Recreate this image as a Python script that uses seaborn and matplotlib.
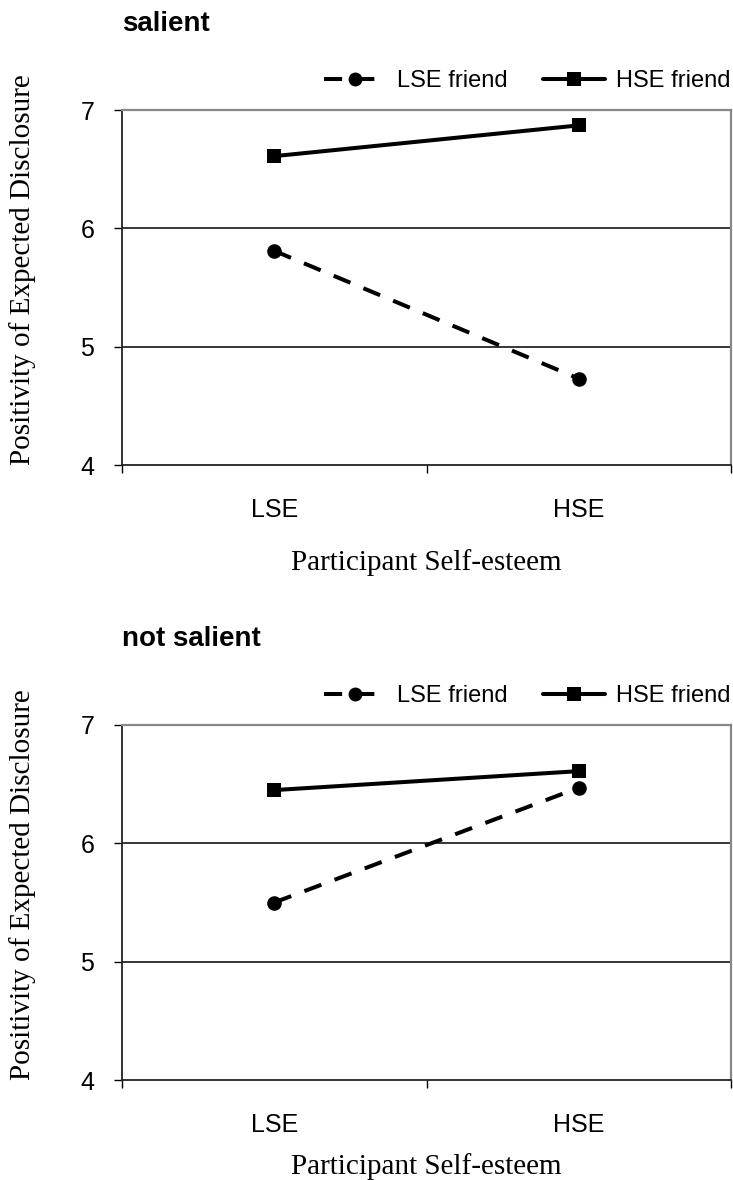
import numpy as np
import pandas as pd
import seaborn as sns
import matplotlib.pyplot as plt
from matplotlib.ticker import FixedLocator

# values
participant = ['LSE', 'HSE']
friend_groups = ['LSE friend', 'HSE friend']

salient_lse_friend = [5.81, 4.73]
salient_hse_friend = [6.61, 6.87]
not_salient_lse_friend = [5.50, 6.47]
not_salient_hse_friend = [6.45, 6.61]

panel_titles = ['salient', 'not salient']
y_ticks = [4, 5, 6, 7]


def make_frame(lse_vals, hse_vals):
    rows = []
    for p, v in zip(participant, lse_vals):
        rows.append({'participant': p, 'friend': 'LSE friend', 'value': v})
    for p, v in zip(participant, hse_vals):
        rows.append({'participant': p, 'friend': 'HSE friend', 'value': v})
    return pd.DataFrame(rows)


panels = [
    make_frame(salient_lse_friend, salient_hse_friend),
    make_frame(not_salient_lse_friend, not_salient_hse_friend),
]

sns.set_style('white', {'text.color': 'black', 'axes.labelcolor': 'black',
                        'xtick.color': 'black', 'ytick.color': 'black'})
plt.rcParams['font.family'] = ['Liberation Sans', 'DejaVu Sans']

fig = plt.figure(figsize=(7.33, 11.8), dpi=100)
axes_pos = [
    [122 / 733, 1 - 465 / 1180, 609 / 733, 355 / 1180],
    [122 / 733, 1 - 1080 / 1180, 609 / 733, 355 / 1180],
]
title_y = [1 - 31 / 1180, 1 - 646 / 1180]
xlabel_pads = [19, 11]

for df, pos, title, ty, lp in zip(panels, axes_pos, panel_titles, title_y, xlabel_pads):
    ax = fig.add_axes(pos)
    sns.lineplot(data=df, x='participant', y='value', hue='friend', style='friend',
                 hue_order=friend_groups, style_order=friend_groups,
                 palette=['black', 'black'],
                 markers={'LSE friend': 'o', 'HSE friend': 's'},
                 dashes={'LSE friend': (4.5, 3.5), 'HSE friend': ''},
                 markersize=10.5, markeredgewidth=0, linewidth=2.9, ax=ax, sort=False)

    ax.set_xlim(-0.5, 1.5)
    ax.set_ylim(4, 7)
    ax.set_yticks(y_ticks)
    ax.set_yticklabels([str(t) for t in y_ticks], fontsize=18)
    ax.set_xticks([0, 1])
    ax.set_xticklabels(participant, fontsize=18)
    ax.xaxis.set_minor_locator(FixedLocator([-0.5, 0.5, 1.5]))
    ax.tick_params(axis='x', which='major', length=0, pad=24, labelcolor='black')
    ax.tick_params(axis='x', which='minor', length=6, width=1, color='black', direction='out', bottom=True)
    ax.tick_params(axis='y', length=6, width=1, color='black', direction='out', left=True, pad=14,
                   labelcolor='black')

    for yv in [5, 6]:
        ax.axhline(yv, color='black', linewidth=1.1, zorder=0)

    for side in ['left', 'bottom']:
        ax.spines[side].set_color('#222222')
        ax.spines[side].set_linewidth(1.3)
    for side in ['top', 'right']:
        ax.spines[side].set_color('#888888')
        ax.spines[side].set_linewidth(1.6)

    ax.set_xlabel('Participant Self-esteem', family='Liberation Serif', fontsize=21,
                  labelpad=lp, color='black')
    ax.set_ylabel('Positivity of Expected Disclosure', family='Liberation Serif', fontsize=21,
                  color='black')
    ax.yaxis.set_label_coords(-0.142, 0.55)

    leg = ax.legend(loc='lower right', bbox_to_anchor=(1.0, 1.05), ncol=2, frameon=False,
                    fontsize=17, handlelength=2.6, columnspacing=1.5, handletextpad=0.5,
                    borderaxespad=0, borderpad=0, labelcolor='black')
    for h in leg.legend_handles:
        h.set_markersize(10)

    fig.text(122 / 733, ty, title, fontsize=20, fontweight='bold', va='baseline', ha='left',
             color='black')

fig.savefig('out.png', dpi=100)
